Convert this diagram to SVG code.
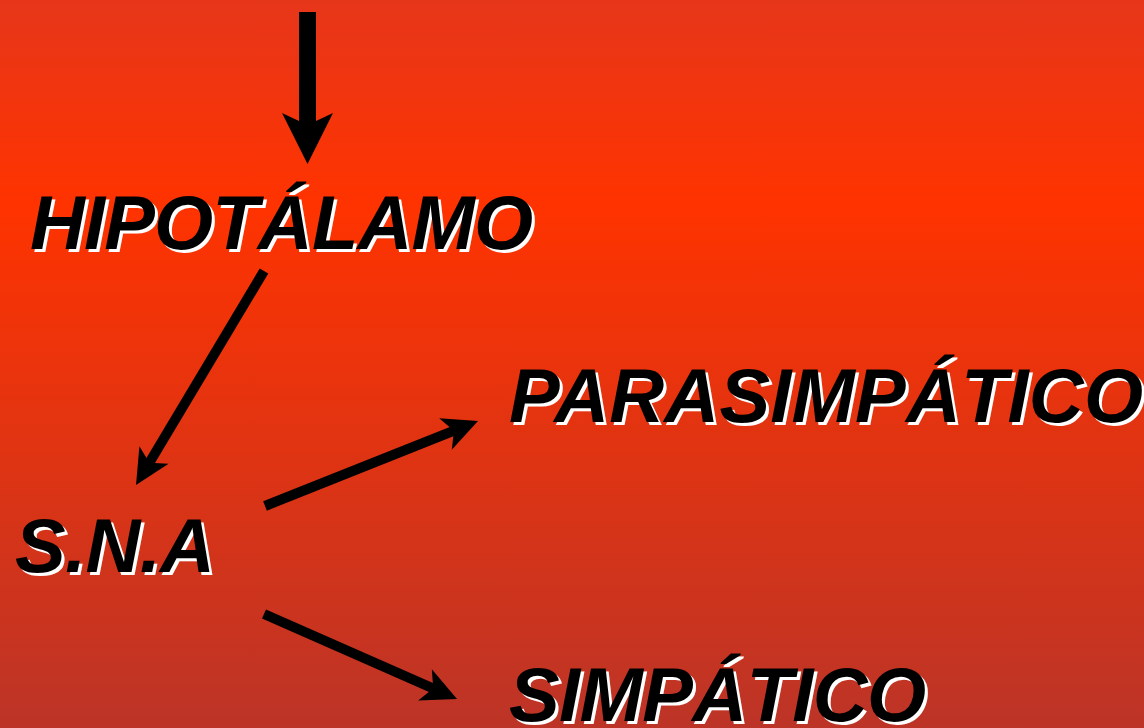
<svg xmlns="http://www.w3.org/2000/svg" width="1144" height="728" viewBox="0 0 1144 728">
  <defs>
    <linearGradient id="bg" x1="0" y1="0" x2="0" y2="1">
      <stop offset="0" stop-color="#E6361A"/>
      <stop offset="0.28" stop-color="#FF3300"/>
      <stop offset="1" stop-color="#BC3427"/>
    </linearGradient>
    <marker id="headBig" markerUnits="userSpaceOnUse" markerWidth="60" markerHeight="60" refX="20" refY="30" orient="auto" overflow="visible">
      <path d="M0,4.5 L51,30 L0,55.5 L12,30 Z" fill="#000"/>
    </marker>
    <marker id="headSmall" markerUnits="userSpaceOnUse" markerWidth="40" markerHeight="60" refX="14" refY="30" orient="auto" overflow="visible">
      <path d="M0,13 L35,30 L0,47 L9,30 Z" fill="#000"/>
    </marker>
  </defs>
  <style>
    .lbl { font-family: "Liberation Sans", Arial, sans-serif; font-weight: bold; font-style: italic; font-size: 76px; }
    .sh { fill: #FFFFFF; }
    .fg { fill: #000000; }
    .conn { stroke: #000; fill: none; stroke-linecap: butt; }
  </style>
  <rect x="0" y="0" width="1144" height="728" fill="url(#bg)"/>

  <g id="connectors">
    <line class="conn" x1="307.5" y1="12" x2="307.5" y2="133" stroke-width="17" marker-end="url(#headBig)"/>
    <line class="conn" x1="264" y1="271" x2="146.8" y2="467" stroke-width="10" marker-end="url(#headSmall)"/>
    <line class="conn" x1="265" y1="506" x2="458.5" y2="428.8" stroke-width="10" marker-end="url(#headSmall)"/>
    <line class="conn" x1="264" y1="614" x2="437.8" y2="690.5" stroke-width="10" marker-end="url(#headSmall)"/>
  </g>

  <g id="node-hipotalamo">
    <text class="lbl sh" x="33" y="252" textLength="503" lengthAdjust="spacing">HIPOTÁLAMO</text>
    <text class="lbl fg" x="30" y="249" textLength="503" lengthAdjust="spacing">HIPOTÁLAMO</text>
  </g>
  <g id="node-parasimpatico">
    <text class="lbl sh" x="512" y="425" textLength="634" lengthAdjust="spacing">PARASIMPÁTICO</text>
    <text class="lbl fg" x="509" y="422" textLength="634" lengthAdjust="spacing">PARASIMPÁTICO</text>
  </g>
  <g id="node-sna">
    <text class="lbl sh" x="18" y="575" textLength="200" lengthAdjust="spacing">S.N.A</text>
    <text class="lbl fg" x="15" y="572" textLength="200" lengthAdjust="spacing">S.N.A</text>
  </g>
  <g id="node-simpatico">
    <text class="lbl sh" x="512" y="724" textLength="417" lengthAdjust="spacing">SIMPÁTICO</text>
    <text class="lbl fg" x="509" y="721" textLength="417" lengthAdjust="spacing">SIMPÁTICO</text>
  </g>
</svg>
